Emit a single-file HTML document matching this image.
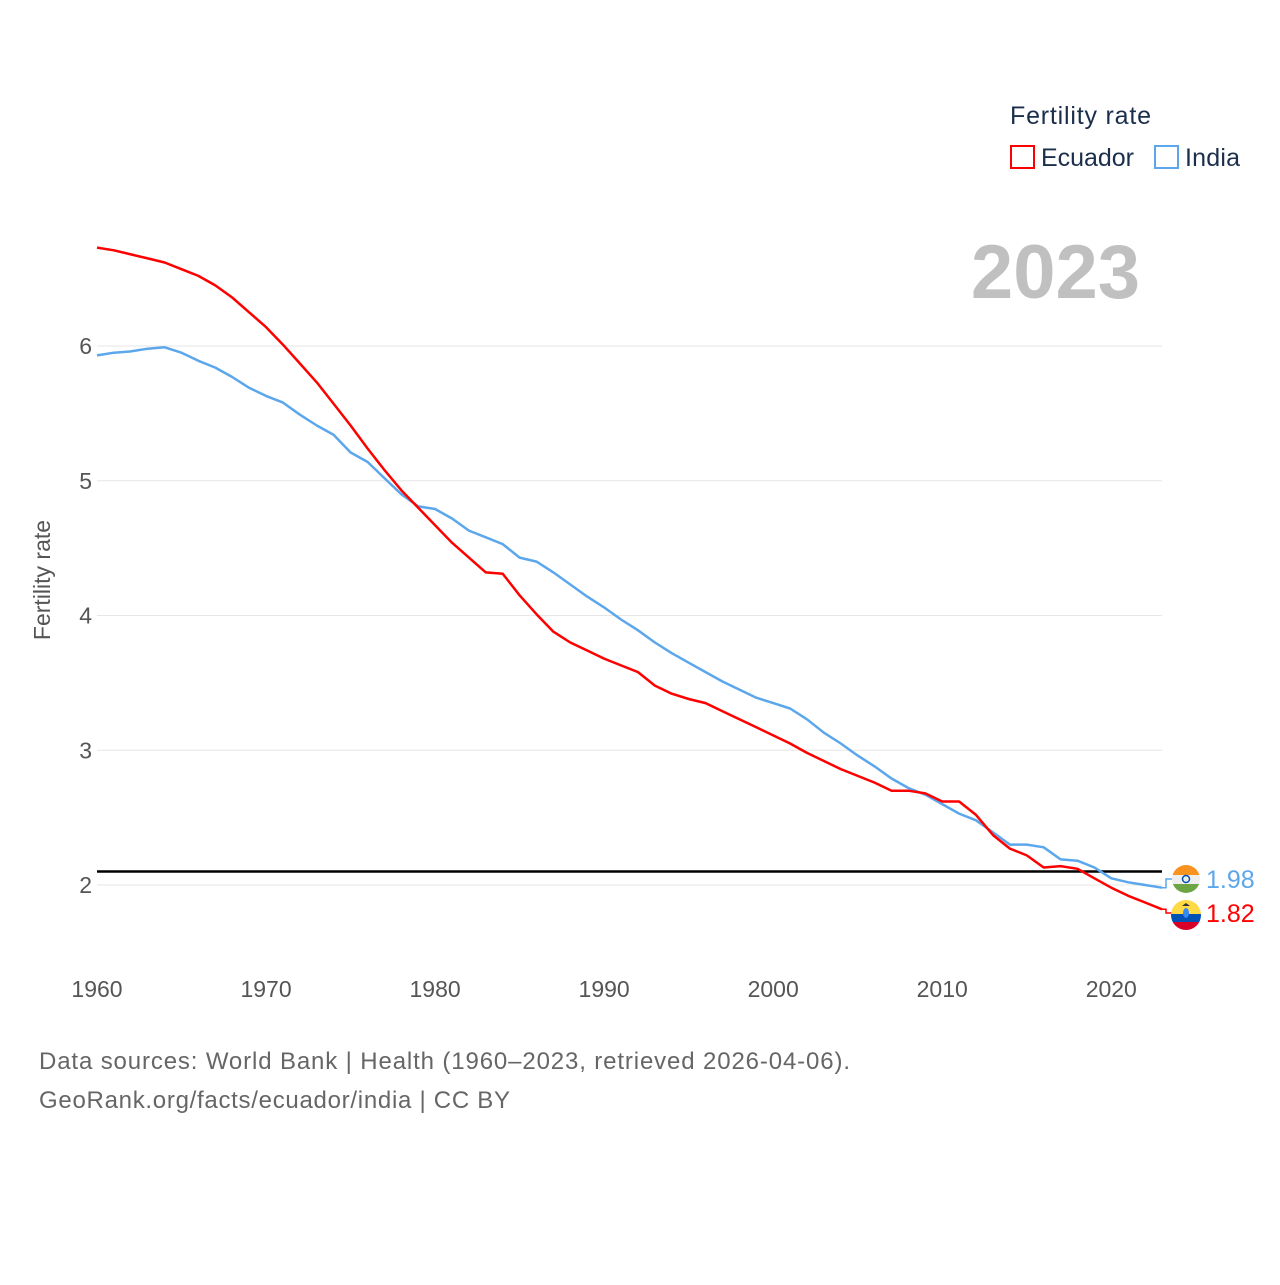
<!DOCTYPE html>
<html><head><meta charset="utf-8"><style>
body{margin:0;background:#fff;width:1280px;height:1280px;overflow:hidden;font-family:"Liberation Sans",sans-serif}
</style></head><body>
<svg id="chart" width="1280" height="1280" xmlns="http://www.w3.org/2000/svg">
<g id="grid"></g>
<g id="series"></g>
<g id="labels"></g>
<text x="1140" y="298" text-anchor="end" font-size="76" font-weight="bold" fill="#c0c0c0">2023</text>
<text x="1010" y="124" font-size="25" fill="#1b2e4b" textLength="141">Fertility rate</text>
<g><rect x="1011" y="146" width="23" height="22" fill="none" stroke="#ff0000" stroke-width="2"/><text x="1041" y="166" font-size="25" fill="#1b2e4b" textLength="93">Ecuador</text></g>
<g><rect x="1155" y="146" width="23" height="22" fill="none" stroke="#5ca7ec" stroke-width="2"/><text x="1185" y="166" font-size="25" fill="#1b2e4b" textLength="55">India</text></g>
<text transform="translate(50,580) rotate(-90)" text-anchor="middle" font-size="23" fill="#555">Fertility rate</text>
<text x="39" y="1069" font-size="24" fill="#666" textLength="811">Data sources: World Bank | Health (1960–2023, retrieved 2026-04-06).</text>
<text x="39" y="1108" font-size="24" fill="#666" textLength="471">GeoRank.org/facts/ecuador/india | CC BY</text>
</svg>
<script>
const years=[];for(let y=1960;y<=2023;y++)years.push(y);
const ecuador=[6.73,6.71,6.68,6.65,6.62,6.57,6.52,6.45,6.36,6.25,6.14,6.01,5.87,5.73,5.57,5.41,5.24,5.08,4.93,4.80,4.67,4.54,4.43,4.32,4.31,4.15,4.01,3.88,3.80,3.74,3.68,3.63,3.58,3.48,3.42,3.38,3.35,3.29,3.23,3.17,3.11,3.05,2.98,2.92,2.86,2.81,2.76,2.70,2.70,2.68,2.62,2.62,2.52,2.37,2.27,2.22,2.13,2.14,2.12,2.05,1.98,1.92,1.87,1.82];
const india=[5.93,5.95,5.96,5.98,5.99,5.95,5.89,5.84,5.77,5.69,5.63,5.58,5.49,5.41,5.34,5.21,5.14,5.02,4.90,4.81,4.79,4.72,4.63,4.58,4.53,4.43,4.40,4.32,4.23,4.14,4.06,3.97,3.89,3.80,3.72,3.65,3.58,3.51,3.45,3.39,3.35,3.31,3.23,3.13,3.05,2.96,2.88,2.79,2.72,2.67,2.60,2.53,2.48,2.39,2.30,2.30,2.28,2.19,2.18,2.13,2.05,2.02,2.00,1.98];
const yTicks=[2,3,4,5,6];
const xTicks=[1960,1970,1980,1990,2000,2010,2020];
const replacement=2.1;
const NS="http://www.w3.org/2000/svg";
const xs=y=>97+(y-1960)*(1162-97)/63;
const ys=v=>885-(v-2)*134.75;
function mk(tag,attrs,parent,txt){const e=document.createElementNS(NS,tag);for(const k in attrs)e.setAttribute(k,attrs[k]);if(txt!==undefined)e.textContent=txt;document.getElementById(parent).appendChild(e);return e;}
yTicks.forEach(v=>{
 const l=mk('line',{x1:97,x2:1162,y1:ys(v),y2:ys(v),stroke:'#e6e6e6','stroke-width':1},'grid');
 
 
 const t=mk('text',{x:92,y:ys(v)+8,'text-anchor':'end','font-size':23,fill:'#555'},'grid',v);
 
 
});
xTicks.forEach(y=>{
 const t=mk('text',{x:xs(y),y:997,'text-anchor':'middle','font-size':23,fill:'#555'},'grid',y);
 
 
});
const rl=mk('line',{x1:97,x2:1162,y1:ys(replacement),y2:ys(replacement),stroke:'#000','stroke-width':2.5},'series');


function path(arr){return arr.map((v,i)=>(i?'L':'M')+xs(years[i]).toFixed(1)+','+ys(v).toFixed(1)).join('');}
const pi=mk('path',{d:path(india),fill:'none',stroke:'#5ca7ec','stroke-width':2.5,'stroke-linejoin':'round'},'series');


const pe=mk('path',{d:path(ecuador),fill:'none',stroke:'#ff0000','stroke-width':2.5,'stroke-linejoin':'round'},'series');


const iv=india[india.length-1], ev=ecuador[ecuador.length-1];
const iy=879, ey=913;
const c1=mk('path',{d:`M${xs(2023)},${ys(iv)}h4V${iy}h6`,fill:'none',stroke:'#5ca7ec','stroke-width':1.5},'labels');


const c2=mk('path',{d:`M${xs(2023)},${ys(ev)}h4V${ey}h6`,fill:'none',stroke:'#ff0000','stroke-width':1.5},'labels');


const fi=mk('g',{},'labels');


fi.innerHTML=`<clipPath id="ci"><circle cx="1186" cy="${iy}" r="14"/></clipPath><g clip-path="url(#ci)"><rect x="1172" y="${iy-14}" width="28" height="10" fill="#f7931e"/><rect x="1172" y="${iy-4}" width="28" height="9" fill="#eee"/><rect x="1172" y="${iy+5}" width="28" height="10" fill="#6da544"/></g><circle cx="1186" cy="${iy}" r="3.5" fill="none" stroke="#0052b4" stroke-width="1.5"/>`;
const fe=mk('g',{},'labels');


fe.innerHTML=`<clipPath id="ce"><circle cx="1186" cy="${ey+2}" r="15"/></clipPath><g clip-path="url(#ce)"><rect x="1171" y="${ey-13}" width="30" height="14" fill="#ffda44"/><rect x="1171" y="${ey+1}" width="30" height="8" fill="#0052b4"/><rect x="1171" y="${ey+9}" width="30" height="9" fill="#d80027"/></g><ellipse cx="1186" cy="${ey}" rx="3" ry="5" fill="#338af3"/><path d="M1182,${ey-7}l4,-3l4,3z" fill="#333"/>`;
const ti=mk('text',{x:1206,y:iy+9,'font-size':25,fill:'#5ca7ec'},'labels',iv.toFixed(2));


const te=mk('text',{x:1206,y:ey+9,'font-size':25,fill:'#ff0000'},'labels',ev.toFixed(2));


</script>
</body></html>
